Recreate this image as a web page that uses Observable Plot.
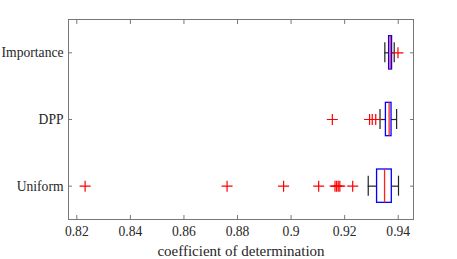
<!DOCTYPE html>
<html>
<head>
<meta charset="utf-8">
<script src="https://cdn.jsdelivr.net/npm/d3@7"></script>
<script src="https://cdn.jsdelivr.net/npm/@observablehq/plot@0.6"></script>
<style>
  html, body { margin: 0; padding: 0; background: #fff; }
  #chart svg, #chart svg text { font-family: "Liberation Serif", "Times New Roman", Times, serif !important; }
</style>
</head>
<body>
<div id="chart"></div>
<script>
// Categories bottom to top (position 1, 2, 3)
const categories = ["Uniform", "DPP", "Importance"];
const lowerWhisker = [0.9288, 0.9332, 0.9350];
const q1 = [0.9321, 0.9354, 0.9366];
const median = [0.9349, 0.9366, 0.9370];
const q3 = [0.9376, 0.9375, 0.9377];
const upperWhisker = [0.9401, 0.9394, 0.9385];
const outliersUniform = [0.8231, 0.8761, 0.8972, 0.9103, 0.9164, 0.9170, 0.9176, 0.9182, 0.9230];
const outliersDPP = [0.9154, 0.9293, 0.9303, 0.9316];
const outliersImportance = [0.9399];
const xTicks = [0.82, 0.84, 0.86, 0.88, 0.90, 0.92, 0.94];
const xLabel = "coefficient of determination";

const boxes = categories.map((c, i) => ({
  cat: c, pos: i + 1,
  lw: lowerWhisker[i], q1: q1[i], med: median[i], q3: q3[i], uw: upperWhisker[i]
}));
const outlierLists = [outliersUniform, outliersDPP, outliersImportance];
const outliers = outlierLists.flatMap((arr, i) => arr.map(v => ({ value: v, pos: i + 1 })));

const boxHalf = 0.25;
const capHalf = 0.15;

const plusSymbol = {
  draw(ctx, size) {
    const r = Math.sqrt(size / Math.PI);
    ctx.moveTo(-r, 0); ctx.lineTo(r, 0);
    ctx.moveTo(0, -r); ctx.lineTo(0, r);
  }
};

const chart = Plot.plot({
  width: 457,
  height: 259,
  marginLeft: 68,
  marginRight: 44,
  marginTop: 19,
  marginBottom: 40,
  style: { color: "#262626", background: "#fff", fontSize: "13.6px" },
  x: { domain: [0.8169, 0.9457] },
  y: { domain: [0.5, 3.5] },
  marks: [
    Plot.axisX(xTicks, { anchor: "bottom", tickSize: -4, text: null, stroke: "#777", label: null }),
    Plot.axisX(xTicks, { anchor: "top", tickSize: -4, text: null, stroke: "#777", label: null }),
    Plot.axisX(xTicks, { anchor: "bottom", tickSize: 0, tickPadding: 7, tickFormat: d => String(+d.toFixed(2)), label: null }),
    Plot.axisY([1, 2, 3], { anchor: "left", tickSize: -4, text: null, stroke: "#777", label: null }),
    Plot.axisY([1, 2, 3], { anchor: "right", tickSize: -4, text: null, stroke: "#777", label: null }),
    Plot.axisY([1, 2, 3], { anchor: "left", tickSize: 0, tickPadding: 5, tickFormat: d => categories[d - 1], label: null }),
    Plot.frame({ stroke: "#777", strokeWidth: 1 }),
    Plot.text([xLabel], { frameAnchor: "bottom", dy: 36, lineAnchor: "bottom", text: d => d, fill: "#262626", fontSize: 15 }),
    Plot.ruleY(boxes, { x1: "lw", x2: "q1", y: "pos", stroke: "#222", strokeWidth: 1.2 }),
    Plot.ruleY(boxes, { x1: "q3", x2: "uw", y: "pos", stroke: "#222", strokeWidth: 1.2 }),
    Plot.ruleX(boxes, { x: "lw", y1: d => d.pos - capHalf, y2: d => d.pos + capHalf, stroke: "#222", strokeWidth: 1.2 }),
    Plot.ruleX(boxes, { x: "uw", y1: d => d.pos - capHalf, y2: d => d.pos + capHalf, stroke: "#222", strokeWidth: 1.2 }),
    Plot.rect(boxes, { x1: "q1", x2: "q3", y1: d => d.pos - boxHalf, y2: d => d.pos + boxHalf, fill: "none", stroke: "#0000ff", strokeWidth: 1.3 }),
    Plot.ruleX(boxes, { x: "med", y1: d => d.pos - boxHalf, y2: d => d.pos + boxHalf, stroke: "#ff2020", strokeWidth: 1.3 }),
    Plot.dot(outliers, { x: "value", y: "pos", symbol: plusSymbol, r: 5.5, stroke: "#ff0000", fill: "none", strokeWidth: 1.2 })
  ]
});
document.getElementById("chart").appendChild(chart);
</script>
</body>
</html>
